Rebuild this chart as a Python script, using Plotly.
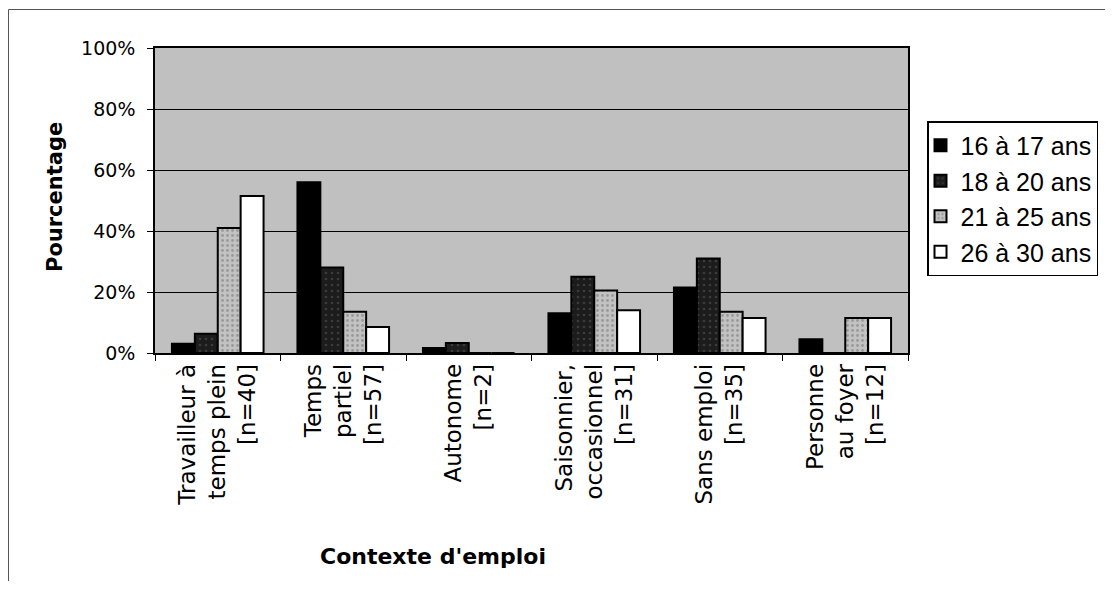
import plotly.graph_objects as go

categories = [
    "Travailleur à<br>temps plein<br>[n=40]",
    "Temps<br>partiel<br>[n=57]",
    "Autonome<br>[n=2]",
    "Saisonnier,<br>occasionnel<br>[n=31]",
    "Sans emploi<br>[n=35]",
    "Personne<br>au foyer<br>[n=12]",
]
series_names = ["16 à 17 ans", "18 à 20 ans", "21 à 25 ans", "26 à 30 ans"]
v_16_17 = [0.03, 0.56, 0.016, 0.13, 0.215, 0.045]
v_18_20 = [0.063, 0.28, 0.033, 0.25, 0.31, 0.0]
v_21_25 = [0.41, 0.135, 0.0, 0.205, 0.135, 0.115]
v_26_30 = [0.515, 0.085, 0.0, 0.14, 0.115, 0.115]
y_ticks = [0, 0.2, 0.4, 0.6, 0.8, 1.0]
x_title = "Contexte d'emploi"
y_title = "Pourcentage"

values = [v_16_17, v_18_20, v_21_25, v_26_30]
fills = ["#000000", "#1c1c1c", "#bcbcbc", "#ffffff"]
patterns = [
    dict(shape=""),
    dict(shape=".", fgcolor="#5a5a5a", bgcolor="#1c1c1c", size=6, solidity=0.15),
    dict(shape=".", fgcolor="#707070", bgcolor="#c2c2c2", size=5, solidity=0.25),
    dict(shape=""),
]

BG = "#c0c0c0"
FONT = "DejaVu Sans, sans-serif"
LEG_FONT = "Liberation Sans, Arial, sans-serif"

# figure pixel geometry (the page body adds an 8px margin)
W, H = 1097, 573
L, T, PW, PH = 147, 40, 753, 305
R = W - L - PW
B = H - T - PH


def px_x(x):
    return (x - 8 - L) / PW


def px_y(y):
    return (T + PH - (y - 8)) / PH


fig = go.Figure()
for name, vals, col, pat in zip(series_names, values, fills, patterns):
    fig.add_trace(go.Bar(
        name=name, x=categories, y=vals,
        marker=dict(color=col, line=dict(color="#000000", width=2), pattern=pat),
    ))

fig.update_layout(
    width=W, height=H,
    margin=dict(l=L, r=R, t=T, b=B, autoexpand=False),
    paper_bgcolor="#ffffff",
    plot_bgcolor=BG,
    barmode="group",
    bargap=0.27,
    bargroupgap=0,
    font=dict(family=FONT, color="#000000", size=19),
    legend=dict(
        x=px_x(927), y=px_y(121), xanchor="left", yanchor="top",
        bgcolor="#ffffff", bordercolor="#000000", borderwidth=1.5,
        font=dict(size=25, family=LEG_FONT),
        itemwidth=30, indentation=-8,
        tracegroupgap=0,
    ),
    xaxis=dict(
        type="category",
        tickangle=-90,
        tickson="boundaries",
        ticks="outside", ticklen=6, tickcolor="#000000",
        showline=True, linecolor="#000000", linewidth=1.5, mirror=True,
        tickfont=dict(size=23, family=FONT),
        showgrid=False,
    ),
    yaxis=dict(
        range=[0, 1],
        tickvals=y_ticks,
        tickformat=".0%",
        ticks="outside", ticklen=6, tickcolor="#000000",
        ticklabelstandoff=8,
        showline=True, linecolor="#000000", linewidth=1.5, mirror=True,
        showgrid=True, gridcolor="#000000", gridwidth=1,
        zeroline=False,
        tickfont=dict(size=19, family=FONT),
    ),
    annotations=[
        dict(text="<b>" + y_title + "</b>", xref="paper", yref="paper",
             x=px_x(55), y=px_y(197), textangle=-90, showarrow=False,
             font=dict(size=21, family=FONT), xanchor="center", yanchor="middle"),
        dict(text="<b>" + x_title + "</b>", xref="paper", yref="paper",
             x=px_x(433), y=px_y(556), showarrow=False,
             font=dict(size=22, family=FONT), xanchor="center", yanchor="middle"),
    ],
    shapes=[
        dict(type="rect", xref="paper", yref="paper",
             x0=px_x(8.5), x1=px_x(1130),
             y0=px_y(620), y1=px_y(9.5),
             line=dict(color="#555555", width=1), fillcolor="rgba(0,0,0,0)", layer="below"),
    ],
)

fig.write_html("out.html")
